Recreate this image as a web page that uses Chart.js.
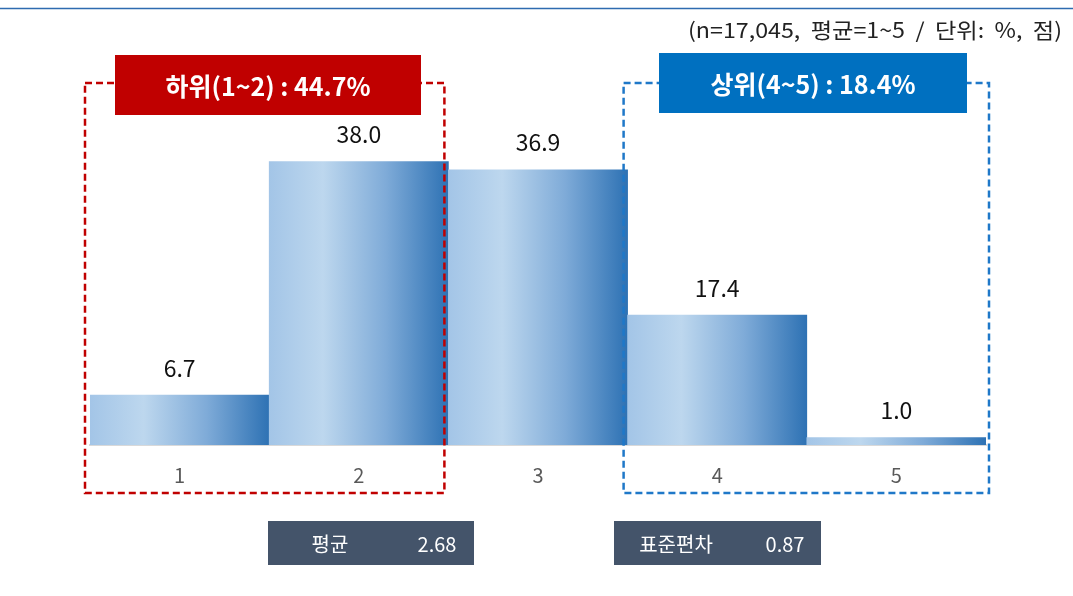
<!DOCTYPE html>
<html><head><meta charset="utf-8">
<script src="https://cdn.jsdelivr.net/npm/chart.js@4/dist/chart.umd.min.js"></script>
<style>html,body{margin:0;padding:0;background:#fff;}#wrap{width:1073px;height:596px;position:relative;}</style>
</head><body><div id="wrap"><canvas id="c" width="1073" height="596"></canvas></div>
<script>
const categories = ['1','2','3','4','5'];
const values = [6.7, 38.0, 36.9, 17.4, 1.0];
const valueLabels = ['6.7','38.0','36.9','17.4','1.0'];
const noteText = '(n=17,045,  평균=1~5  /  단위:  %,  점)';
const lowGroupLabel = '하위(1~2) : 44.7%';
const highGroupLabel = '상위(4~5) : 18.4%';
const statNames = ['평균','표준편차'];
const statValues = ['2.68','0.87'];

const KR = '"Noto Sans CJK KR", "Noto Sans", sans-serif';

function barGradient(c){
  const chart = c.chart; const area = chart.chartArea;
  if(!area || c.type !== 'data') return '#9DC3E6';
  const xs = chart.scales.x;
  const cx = xs.getPixelForValue(c.dataIndex);
  const w = xs.width / categories.length;
  const g = chart.ctx.createLinearGradient(cx - w/2, 0, cx + w/2, 0);
  g.addColorStop(0, '#A3C5E7');
  g.addColorStop(0.3, '#BDD7EE');
  g.addColorStop(0.65, '#7FABD8');
  g.addColorStop(1, '#2E72B4');
  return g;
}

function fitText(ctx, text, xRight, y, width){
  const m = ctx.measureText(text).width;
  ctx.save();
  ctx.translate(xRight, y);
  ctx.scale(width / m, 1);
  ctx.textAlign = 'right';
  ctx.fillText(text, 0, 0);
  ctx.restore();
}

const overlay = {
  id: 'overlay',
  afterDatasetsDraw(chart){
    const ctx = chart.ctx;
    const xs = chart.scales.x;
    const w = xs.width / categories.length;
    const meta = chart.getDatasetMeta(0);
    ctx.save();
    // value labels
    ctx.fillStyle = '#111';
    ctx.font = '23px ' + KR;
    ctx.textAlign = 'center'; ctx.textBaseline = 'middle';
    meta.data.forEach((bar, i) => {
      ctx.fillText(valueLabels[i], bar.x, bar.y - 27);
    });
    // dashed group boxes
    const top = 83, bottom = 493;
    function dashed(x1, x2, color){
      ctx.strokeStyle = color; ctx.lineWidth = 2.5; ctx.setLineDash([7,4]);
      ctx.strokeRect(x1, top, x2 - x1, bottom - top);
      ctx.setLineDash([]);
    }
    const l1 = xs.getPixelForValue(0) - w/2 - 5;
    const r1 = xs.getPixelForValue(1) + w/2 - 4;
    const l2 = xs.getPixelForValue(3) - w/2 - 4;
    const r2 = xs.getPixelForValue(4) + w/2 + 3;
    dashed(l1, r1, '#C00000');
    dashed(l2, r2, '#1F78C8');
    // label boxes
    function labelBox(x1, x2, y1, y2, fill, text){
      ctx.fillStyle = fill; ctx.fillRect(x1, y1, x2 - x1, y2 - y1);
      ctx.fillStyle = '#fff'; ctx.font = 'bold 25px ' + KR;
      ctx.textAlign = 'center'; ctx.textBaseline = 'middle';
      ctx.fillText(text, (x1 + x2)/2, (y1 + y2)/2 + 1);
    }
    labelBox(115, 421, 55, 115, '#C00000', lowGroupLabel);
    labelBox(659, 967, 53, 113, '#0070C0', highGroupLabel);
    // stat boxes
    function statBox(x1, x2, name, nameX, val, valX){
      ctx.fillStyle = '#44546A'; ctx.fillRect(x1, 521, x2 - x1, 44);
      ctx.fillStyle = '#fff'; ctx.font = '20px ' + KR;
      ctx.textAlign = 'center'; ctx.textBaseline = 'middle';
      ctx.fillText(name, nameX, 544);
      ctx.fillText(val, valX, 544);
    }
    statBox(268, 474, statNames[0], 330, statValues[0], 437);
    statBox(614, 821, statNames[1], 676, statValues[1], 785);
    // top rule and note
    ctx.strokeStyle = '#2E6BB0'; ctx.lineWidth = 1.5;
    ctx.beginPath(); ctx.moveTo(0, 8.5); ctx.lineTo(1073, 8.5); ctx.stroke();
    ctx.fillStyle = '#222'; ctx.font = '21px ' + KR;
    ctx.textBaseline = 'middle';
    fitText(ctx, noteText, 1062, 30, 374);
    ctx.restore();
  }
};

new Chart(document.getElementById('c'), {
  type: 'bar',
  data: { labels: categories, datasets: [{ data: values, backgroundColor: barGradient, borderWidth: 0, barPercentage: 1, categoryPercentage: 1 }] },
  options: {
    responsive: false, animation: false,
    layout: { padding: { left: 90, right: 87, top: 72, bottom: 111 } },
    plugins: { legend: { display: false }, tooltip: { enabled: false } },
    scales: {
      x: {
        grid: { display: false, drawTicks: false },
        border: { display: true, color: '#D9D9D9', width: 2 },
        ticks: { color: '#595959', font: { size: 20, family: KR }, padding: 18 },
        afterFit: s => { s.height = 40; }
      },
      y: { display: false, min: 0, max: 50 }
    }
  },
  plugins: [overlay]
});
</script></body></html>
